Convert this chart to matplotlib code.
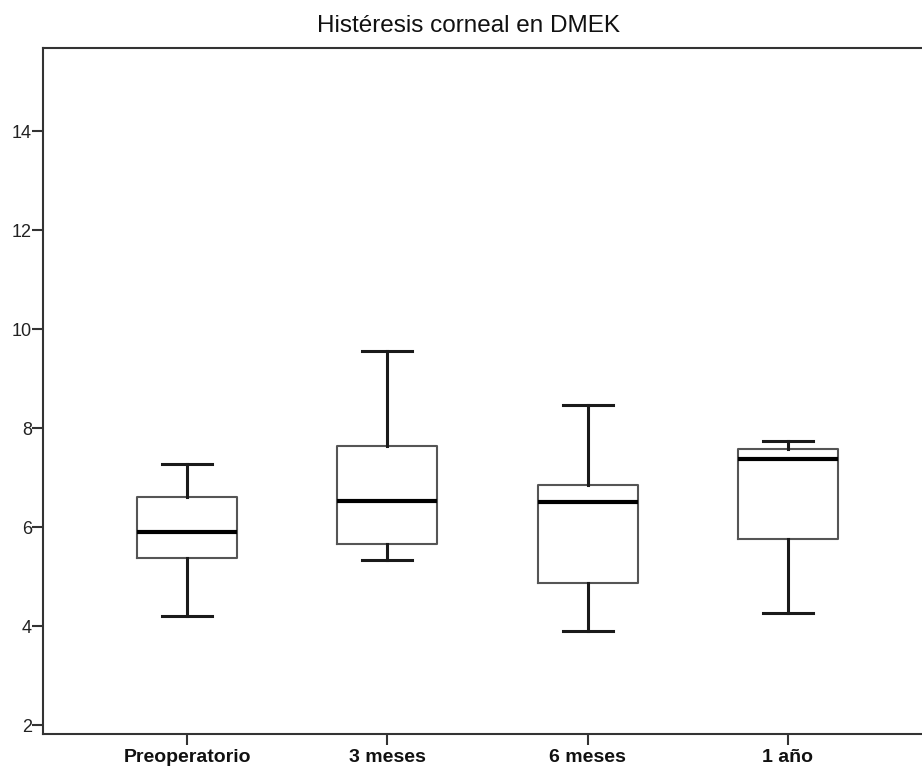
import matplotlib
matplotlib.use("Agg")
from matplotlib import pyplot as plt

# values
groups = ["Preoperatorio", "3 meses", "6 meses", "1 año"]
whisk_lo = [4.20, 5.33, 3.91, 4.27]
q1 = [5.37, 5.66, 4.87, 5.75]
medians = [5.90, 6.53, 6.50, 7.37]
q3 = [6.61, 7.63, 6.85, 7.57]
whisk_hi = [7.27, 9.56, 8.46, 7.74]
yticks = [2, 4, 6, 8, 10, 12, 14]

plt.rcParams['font.family'] = ['Liberation Sans', 'DejaVu Sans']

stats = []
for i, g in enumerate(groups):
    stats.append({'label': g, 'whislo': whisk_lo[i], 'q1': q1[i], 'med': medians[i],
                  'q3': q3[i], 'whishi': whisk_hi[i], 'fliers': []})

fig = plt.figure(figsize=(9.22, 7.73), dpi=100)
# axes run a little past the right edge, like the original export
ax = fig.add_axes([43 / 922, 1 - 734 / 773, (932 - 43) / 922, (734 - 48) / 773])

ax.bxp(stats, positions=range(len(groups)), widths=0.5, showfliers=False,
       boxprops=dict(color='#555555', linewidth=1.5),
       medianprops=dict(color='black', linewidth=3),
       whiskerprops=dict(color='#1a1a1a', linewidth=2.2),
       capprops=dict(color='#1a1a1a', linewidth=2.2),
       capwidths=0.25)

ax.set_xlim(-0.72, 3.72)
ax.set_ylim(1.82, 15.68)
ax.set_yticks(yticks)
ax.set_yticklabels([str(t) for t in yticks], fontsize=13, color='#222222')
ax.set_xticks(range(len(groups)))
ax.set_xticklabels(groups, fontsize=14, fontweight='bold', color='#111111')
ax.tick_params(axis='both', direction='out', width=1.5, color='#333333')
ax.tick_params(axis='y', length=8, pad=0)
ax.tick_params(axis='x', length=8, pad=3)
for s in ax.spines.values():
    s.set_color('#333333')
    s.set_linewidth(1.5)

fig.text(468 / 922, 1 - 31.5 / 773, "Histéresis corneal en DMEK", ha='center', va='baseline',
         fontsize=17.5, color='#111111')

fig.savefig("out.png", dpi=100)
